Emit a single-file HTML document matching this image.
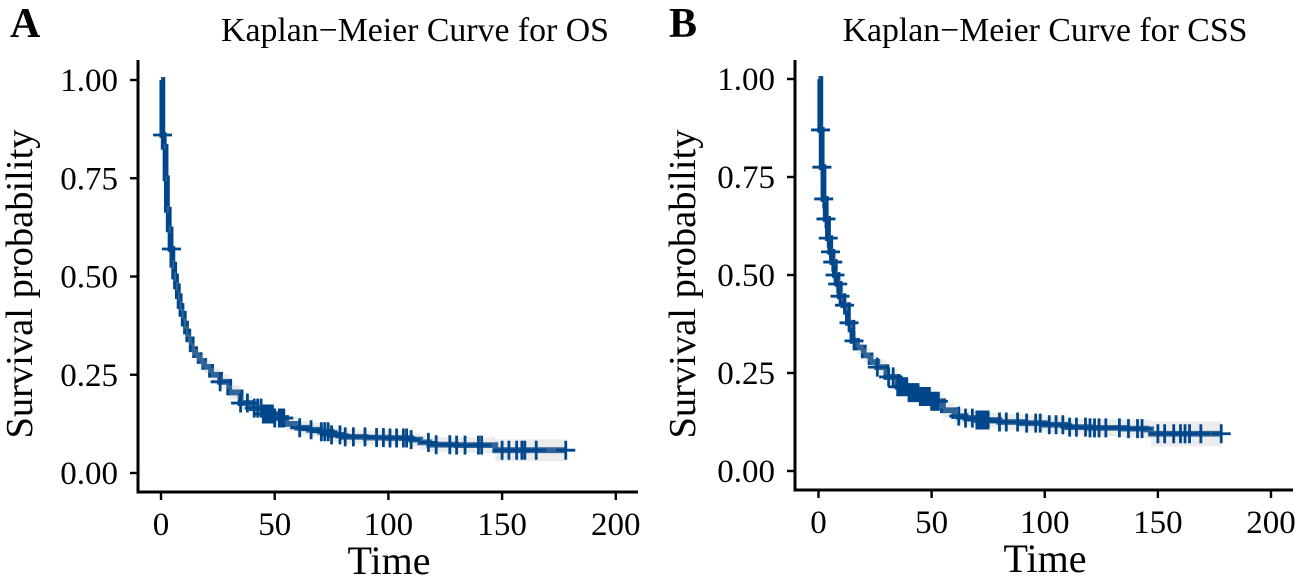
<!DOCTYPE html>
<html lang="en">
<head>
<meta charset="utf-8">
<title>Kaplan-Meier Curves</title>
<style>
html,body{margin:0;padding:0;background:#fff;}
body{width:1299px;height:579px;overflow:hidden;}
svg{display:block;font-family:"Liberation Serif",serif;}
</style>
</head>
<body>
<svg id="chart" width="1299" height="579" viewBox="0 0 1299 579" xmlns="http://www.w3.org/2000/svg"></svg>
<script>
const xTickValues = [0, 50, 100, 150, 200];
const xTickLabels = ["0", "50", "100", "150", "200"];
const yTickValues = [0, 0.25, 0.5, 0.75, 1];
const yTickLabels = ["0.00", "0.25", "0.50", "0.75", "1.00"];

const osTimes = [0, 0.6, 1.2, 2, 2.6, 3.4, 4.2, 5, 5.8, 6.6, 7.4, 8.2, 9, 10, 11, 12, 13.5, 15, 17, 19, 22, 26, 30, 35, 40, 45, 50, 55, 60, 65, 70, 75, 80, 90, 100, 110, 114, 118, 130, 145, 147, 178];
const osSurv = [1, 0.86, 0.83, 0.75, 0.67, 0.62, 0.57, 0.53, 0.50, 0.475, 0.45, 0.425, 0.405, 0.38, 0.36, 0.34, 0.315, 0.30, 0.285, 0.27, 0.25, 0.232, 0.205, 0.178, 0.165, 0.15, 0.14, 0.125, 0.115, 0.11, 0.105, 0.097, 0.092, 0.09, 0.089, 0.085, 0.078, 0.072, 0.071, 0.071, 0.058, 0.058];
const osCi = [0, 0.004, 0.005, 0.006, 0.007, 0.008, 0.009, 0.009, 0.01, 0.01, 0.01, 0.011, 0.011, 0.012, 0.012, 0.012, 0.013, 0.013, 0.014, 0.014, 0.015, 0.016, 0.016, 0.016, 0.016, 0.016, 0.016, 0.016, 0.016, 0.016, 0.016, 0.016, 0.016, 0.016, 0.016, 0.016, 0.017, 0.017, 0.018, 0.02, 0.026, 0.026];
const osCensorTimes = [0.7, 4.6, 26, 35, 38, 41, 42.5, 44, 45, 46, 47, 48, 49, 50, 52, 53, 54, 61, 66, 70.5, 72, 73.5, 75, 78.7, 81, 84.6, 89.7, 94.8, 97.8, 100.7, 103.6, 106.6, 108, 110, 117.6, 121, 127, 130, 133.7, 139.6, 141, 150, 153, 156.4, 158.7, 160, 165, 178];

const cssTimes = [0, 0.8, 1.4, 2.2, 3.2, 4.2, 5.2, 6.2, 7.2, 8.4, 9.4, 11, 13, 15, 17, 20, 23, 26, 30, 35, 40, 45, 50, 55, 60, 65, 70, 80, 90, 100, 110, 120, 135, 145, 147, 178];
const cssSurv = [1, 0.87, 0.775, 0.694, 0.643, 0.594, 0.559, 0.533, 0.50, 0.477, 0.446, 0.423, 0.378, 0.332, 0.315, 0.295, 0.278, 0.265, 0.24, 0.215, 0.2, 0.19, 0.178, 0.155, 0.14, 0.135, 0.13, 0.125, 0.122, 0.118, 0.112, 0.11, 0.108, 0.106, 0.095, 0.095];
const cssCi = [0, 0.004, 0.005, 0.006, 0.007, 0.008, 0.009, 0.01, 0.01, 0.011, 0.011, 0.012, 0.012, 0.014, 0.015, 0.016, 0.016, 0.017, 0.017, 0.017, 0.017, 0.017, 0.017, 0.017, 0.017, 0.017, 0.017, 0.018, 0.018, 0.018, 0.019, 0.02, 0.021, 0.022, 0.03, 0.03];
const cssCensorTimes = [0.9, 1.5, 2.3, 3.3, 4.3, 5.3, 6.3, 7.3, 8.5, 9.5, 11.5, 13.5, 15.7, 26, 31, 33, 35, 36, 37, 38, 39, 40, 41, 42, 43, 44, 45, 46, 47, 48, 49, 50, 51, 52, 53, 62, 65, 68, 70, 71, 72, 73, 74, 75, 80, 83, 88, 92, 96, 98, 102, 105, 108, 111, 114, 118, 120, 122, 124, 127, 133, 137, 141, 143, 150, 153, 157, 160, 162, 164, 169, 178];

const SVG_NS = "http://www.w3.org/2000/svg";
const root = document.getElementById("chart");
const LINE_COLOR = "#00468b";

function el(tag, attrs, parent) {
  const node = document.createElementNS(SVG_NS, tag);
  for (const key in attrs) node.setAttribute(key, attrs[key]);
  parent.appendChild(node);
  return node;
}

function stepValue(times, values, t) {
  let result = values[0];
  for (let i = 0; i < times.length; i++) {
    if (times[i] <= t) result = values[i];
  }
  return result;
}

function drawPanel(p) {
  const xScale = t => p.x0 + t * p.xPerUnit;
  const yScale = s => p.y0 - s * p.yPerUnit;

  const group = el("g", {}, root);
  
  

  // Step curve
  let d = "";
  for (let i = 0; i < p.times.length; i++) {
    const x = xScale(p.times[i]).toFixed(2);
    if (i === 0) {
      d += "M" + x + " " + yScale(p.surv[0]).toFixed(2);
    } else {
      d += "H" + x + "V" + yScale(p.surv[i]).toFixed(2);
    }
  }
  const curve = el("path", {d: d, fill: "none", stroke: LINE_COLOR, "stroke-width": 5.8}, group);
  
  

  // Confidence band as a stepped ribbon
  let upper = "", lower = "";
  for (let i = 0; i < p.times.length; i++) {
    const x = xScale(p.times[i]).toFixed(2);
    const nextX = xScale(i + 1 < p.times.length ? p.times[i + 1] : p.times[i]).toFixed(2);
    const half = p.ci[i] + 0.002;
    const yU = yScale(p.surv[i] + half).toFixed(2);
    const yL = yScale(p.surv[i] - half).toFixed(2);
    upper += (i === 0 ? "M" : "L") + x + " " + yU + "L" + nextX + " " + yU;
    lower = "L" + nextX + " " + yL + "L" + x + " " + yL + lower;
  }
  const band = el("path", {d: upper + lower + "Z", fill: "#b9b9b9", "fill-opacity": 0.27}, group);
  
  

  // Censor marks
  const censorGroup = el("g", {stroke: LINE_COLOR, "stroke-width": 2.8}, group);
  
  
  p.censors.forEach(t => {
    const cx = xScale(t);
    const cy = yScale(stepValue(p.times, p.surv, t));
    const mark = el("path", {d: "M" + (cx - 9.5) + " " + cy + "H" + (cx + 9.5) + "M" + cx + " " + (cy - 9.5) + "V" + (cy + 9.5), fill: "none"}, censorGroup);
    
    
  });

  // Axes
  const yAxis = el("line", {x1: p.axisX, x2: p.axisX, y1: p.axisTop, y2: p.axisY + 1.5, stroke: "#000", "stroke-width": 3}, group);
  
  
  const xAxis = el("line", {x1: p.axisX, x2: p.axisRight, y1: p.axisY, y2: p.axisY, stroke: "#000", "stroke-width": 3}, group);
  
  

  yTickValues.forEach((v, i) => {
    const y = yScale(v);
    const tick = el("line", {x1: p.axisX - 8, x2: p.axisX, y1: y, y2: y, stroke: "#000", "stroke-width": 2.4}, group);
    
    
    const label = el("text", {x: p.axisX - 20, y: y + 11, "text-anchor": "end", "font-size": 33, fill: "#000"}, group);
    
    
    label.textContent = yTickLabels[i];
  });

  xTickValues.forEach((v, i) => {
    const x = xScale(v);
    const tick = el("line", {x1: x, x2: x, y1: p.axisY, y2: p.axisY + 8, stroke: "#000", "stroke-width": 2.4}, group);
    
    
    const label = el("text", {x: x, y: p.axisY + 43, "text-anchor": "middle", "font-size": 33, fill: "#000"}, group);
    
    
    label.textContent = xTickLabels[i];
  });

  const xTitle = el("text", {x: p.xTitleX, y: p.axisY + 82, "text-anchor": "middle", "font-size": 40, fill: "#000"}, group);
  
  
  xTitle.textContent = "Time";

  const yTitle = el("text", {transform: "translate(" + p.yTitleX + " " + p.yTitleY + ") rotate(-90)", "text-anchor": "middle", "font-size": 38.5, fill: "#000"}, group);
  
  
  yTitle.textContent = "Survival probability";

  const title = el("text", {x: p.titleX, y: 41, "text-anchor": "middle", "font-size": 33.8, fill: "#000"}, group);
  
  
  title.textContent = p.title;

  const letter = el("text", {x: p.letterX, y: 37, "font-size": 42, "font-weight": "bold", fill: "#000"}, group);
  
  
  letter.textContent = p.letter;
}

drawPanel({
  name: "os", title: "Kaplan\u2212Meier Curve for OS", letter: "A",
  times: osTimes, surv: osSurv, ci: osCi, censors: osCensorTimes,
  x0: 161, xPerUnit: 2.274, y0: 473, yPerUnit: 393,
  axisX: 138, axisY: 492, axisTop: 60, axisRight: 638,
  xTitleX: 389, yTitleX: 32, yTitleY: 284, titleX: 415, letterX: 10
});

drawPanel({
  name: "css", title: "Kaplan\u2212Meier Curve for CSS", letter: "B",
  times: cssTimes, surv: cssSurv, ci: cssCi, censors: cssCensorTimes,
  x0: 818.5, xPerUnit: 2.2625, y0: 471, yPerUnit: 392,
  axisX: 795, axisY: 490, axisTop: 60, axisRight: 1293,
  xTitleX: 1045, yTitleX: 695, yTitleY: 284, titleX: 1045, letterX: 669
});
</script>
</body>
</html>
